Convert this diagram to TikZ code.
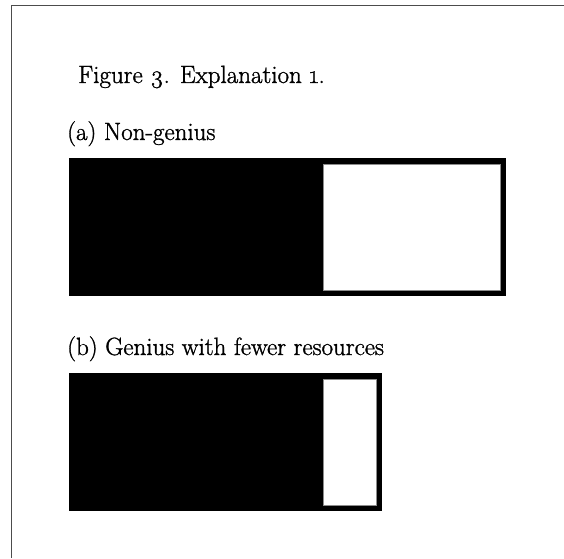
\documentclass[tikz,border=0pt]{standalone}
\usepackage{fontspec}
\newfontfamily\heavyrm{Latin Modern Roman}[FakeBold=1.2]
\begin{document}
\begin{tikzpicture}[x=1pt,y=1pt,
  lbl/.style={anchor=base west,inner sep=0pt,font=\heavyrm\fontsize{25}{29}\selectfont},
  barfill/.style={fill=black},
  gap/.style={fill=white,draw=black!45,line width=0.6pt}]
\useasboundingbox (0,0) rectangle (564,558);
\fill[white] (0,0) rectangle (564,558);
\draw[black!70,line width=1pt] (11,0) -- (11,552) -- (564,552);
\node[lbl] (title) at (78,475) {Figure {\addfontfeature{Numbers=OldStyle}3}. Explanation {\addfontfeature{Numbers=OldStyle}1}.};
\node[lbl] (la) at (67,418) {(a) Non-genius};
\node[lbl] (lb) at (67,203) {(b) Genius with fewer resources};
\fill[barfill] (69.3,262.3) rectangle (505.7,399.7);
\filldraw[gap] (323.3,268) rectangle (500,394);
\fill[barfill] (69.3,47) rectangle (381.7,185.3);
\filldraw[gap] (323.3,53) rectangle (376,178.7);
\end{tikzpicture}
\end{document}
